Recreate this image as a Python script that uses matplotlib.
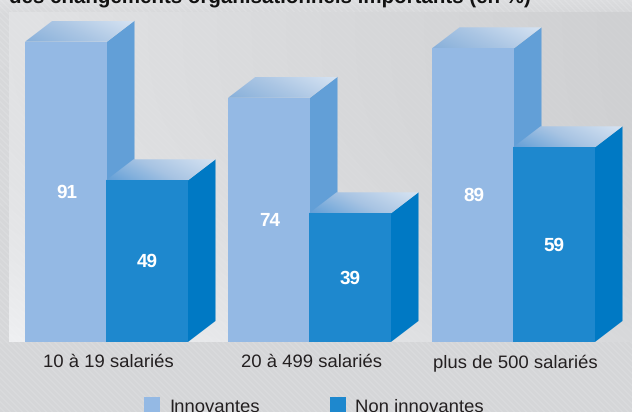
import numpy as np
import matplotlib
matplotlib.use("Agg")
import matplotlib.pyplot as plt
from matplotlib.colors import LinearSegmentedColormap
from matplotlib.patches import Polygon, Rectangle

plt.rcParams["font.family"] = ["Liberation Sans", "DejaVu Sans"]
plt.rcParams["text.hinting"] = "no_hinting"

# Chart data
categories = ["10 à 19 salariés", "20 à 499 salariés", "plus de 500 salariés"]
innovantes = [91, 74, 89]
non_innovantes = [49, 39, 59]
series_names = ["Innovantes", "Non innovantes"]
title = "des changements organisationnels importants (en %)"

W, H = 632, 412
BASE_PX = 342.0       # pixel row of the value axis zero
PX_PER_UNIT = 3.3
DX, DY_PX = 27.5, 21.0
DY = DY_PX / PX_PER_UNIT
BAR_W = 82
GROUP_LEFT = [25, 228, 432]

fig = plt.figure(figsize=(W / 100, H / 100), dpi=100)
ax = fig.add_axes([0, 0, 1, 1])
ax.axis("off")


def py(p):
    """Pixel row to value-axis coordinate."""
    return (BASE_PX - p) / PX_PER_UNIT


# Textured page background with fine diagonal stripes
yy, xx = np.mgrid[0:H, 0:W]
page = 219 - 3 * (yy / H) - 3 * (xx / W) * (1 - yy / H) + 6 * np.clip(1 - yy / 14, 0, 1)
stripes = ((xx - yy) % 6 < 2).astype(float)
page = page + 4 * stripes - 1.5
rgb = np.dstack([page - 1, page, page + 2]) / 255
ax.imshow(rgb, extent=(0, W, py(H), py(0)), aspect="auto", zorder=0,
          interpolation="nearest")

# Lighter plotting panel, brightest at lower left and darkening to the right
ph, pw = 330, W - 9
v, u = np.mgrid[0:1:ph * 1j, 0:1:pw * 1j]
panel = 226 - 18 * u + (14 - 5 * u) * v ** 3
panel = panel + 1.0 * (((np.arange(pw)[None, :] - np.arange(ph)[:, None]) % 7) < 2)
prgb = np.dstack([panel - 1, panel, panel + 2]) / 255
ax.imshow(np.clip(prgb, 0, 1), extent=(9, W, py(342), py(12)), aspect="auto", zorder=1,
          interpolation="bilinear")
ax.set_xlim(0, W)
ax.set_ylim(py(H), py(0))

top_light = LinearSegmentedColormap.from_list("top_light", ["#88b0da", "#abc6e4", "#d3e1f1"])
top_dark = LinearSegmentedColormap.from_list("top_dark", ["#629fd7", "#a8c4e3", "#d3e1f1"])
across = np.linspace(0, 1, 128)
depth = np.linspace(1, 0, 32)
grad = 0.72 * across[None, :] + 0.28 * depth[:, None]


def draw_bar(x, value, front, side, cmap, zorder):
    # Right-hand face
    ax.add_patch(Polygon([(x + BAR_W, 0), (x + BAR_W + DX, DY),
                          (x + BAR_W + DX, value + DY), (x + BAR_W, value)],
                         closed=True, facecolor=side, edgecolor="none", zorder=zorder))
    # Top face with a diagonal gradient
    top = Polygon([(x, value), (x + DX, value + DY), (x + BAR_W + DX, value + DY),
                   (x + BAR_W, value)], closed=True, facecolor="none", edgecolor="none",
                  zorder=zorder)
    ax.add_patch(top)
    im = ax.imshow(grad, cmap=cmap, vmin=0.0, vmax=0.95, aspect="auto",
                   extent=(x, x + BAR_W + DX, value, value + DY), zorder=zorder,
                   interpolation="bilinear")
    im.set_clip_path(top)
    # Front face
    ax.bar(x, value, width=BAR_W, align="edge", color=front, linewidth=0, zorder=zorder + 0.1)


COL_LIGHT, COL_LIGHT_SIDE = "#94b9e4", "#629fd7"
COL_DARK, COL_DARK_SIDE = "#1e88ce", "#0079c4"
LABEL_SIZE = 13.3
NUM_SIZE = 13.6
NUM_OFFSET = -0.3

for i, left in enumerate(GROUP_LEFT):
    base_z = 2 + i
    draw_bar(left, innovantes[i], COL_LIGHT, COL_LIGHT_SIDE, top_light, base_z)
    draw_bar(left + BAR_W - 1, non_innovantes[i], COL_DARK, COL_DARK_SIDE, top_dark, base_z + 0.3)
    ax.text(left + BAR_W / 2 + 1, innovantes[i] / 2 + NUM_OFFSET, str(innovantes[i]), color="white",
            fontsize=NUM_SIZE, fontweight="bold", ha="center", va="center", zorder=6)
    ax.text(left + BAR_W * 1.5 - 1, non_innovantes[i] / 2 + NUM_OFFSET, str(non_innovantes[i]),
            color="white", fontsize=NUM_SIZE, fontweight="bold", ha="center", va="center", zorder=6)
    ax.text(left + BAR_W + 1, py(367), categories[i], color="#231f20", fontsize=LABEL_SIZE,
            ha="center", va="baseline", zorder=6)

# Legend along the lower edge
for x0, name, col in zip([144, 330], series_names, [COL_LIGHT, COL_DARK]):
    ax.add_patch(Rectangle((x0, py(413)), 16, py(397) - py(413), facecolor=col,
                           edgecolor="none", zorder=6))
    ax.text(x0 + 25, py(412), name, color="#231f20", fontsize=LABEL_SIZE, ha="left",
            va="baseline", zorder=6)

# Heading, running off the top edge
ax.text(9, py(2.5), title, color="#111111", fontsize=14.8, fontweight="bold", ha="left",
        va="baseline", zorder=6)

fig.savefig("out.png", dpi=100)
